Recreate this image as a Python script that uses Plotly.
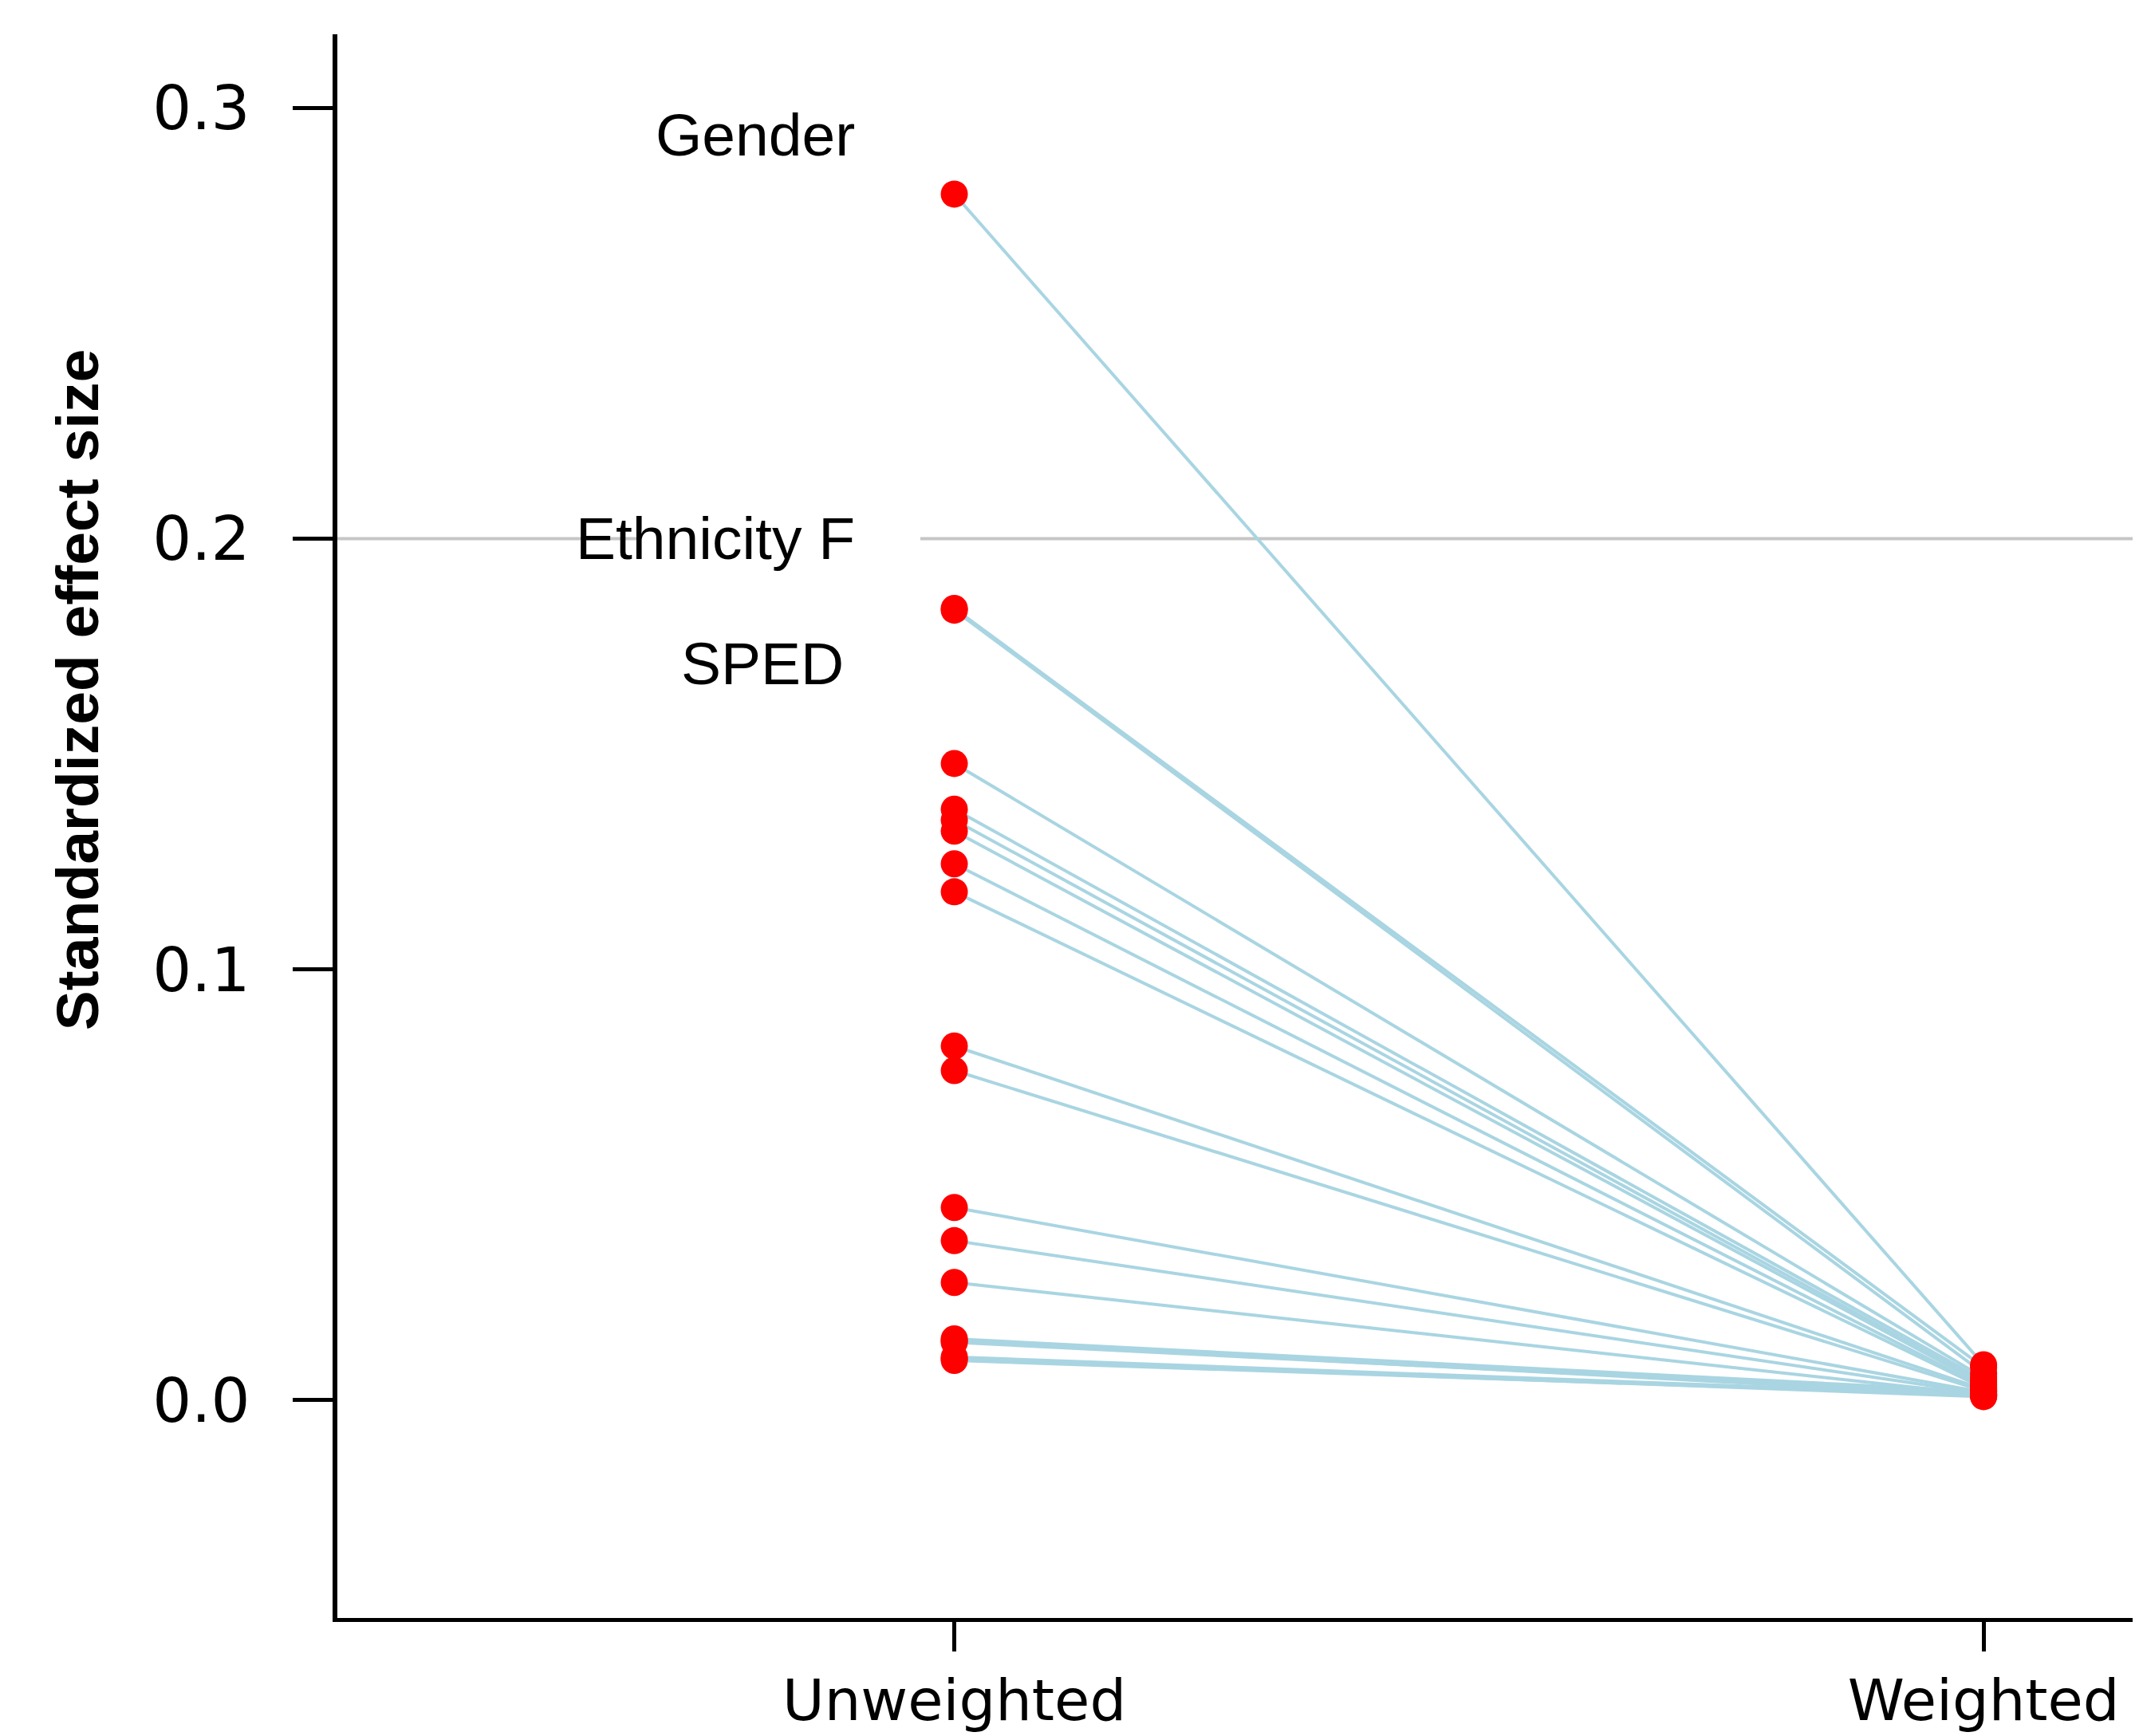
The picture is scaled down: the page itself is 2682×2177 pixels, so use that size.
import plotly.graph_objects as go

# ---- data ----
categories = ["Unweighted", "Weighted"]
cat_pos = [1, 2]
unweighted = [0.2800, 0.1838, 0.1834, 0.1478, 0.1372, 0.1347, 0.1321, 0.1245, 0.1180,
              0.0822, 0.0765, 0.0447, 0.0370, 0.0273, 0.0142, 0.0138, 0.0134,
              0.0100, 0.0096, 0.0092]
weighted = [0.0082, 0.0076, 0.0062, 0.0052, 0.0046, 0.0040, 0.0036, 0.0031, 0.0028,
            0.0025, 0.0021, 0.0018, 0.0015, 0.0012, 0.0020, 0.0010, 0.0015,
            0.0012, 0.0008, 0.0011]
label_names = ["Gender", "Ethnicity F", "SPED"]
label_y = [0.2937, 0.2000, 0.1710]
label_shift = [0, 0, -14]
y_ticks = [0.0, 0.1, 0.2, 0.3]
y_ticktext = ["0.0", "0.1", "0.2", "0.3"]
threshold = 0.2

# ---- figure ----
fig = go.Figure()

lx, ly = [], []
for u, w in zip(unweighted, weighted):
    lx += [cat_pos[0], cat_pos[1], None]
    ly += [u, w, None]
fig.add_trace(go.Scatter(x=lx, y=ly, mode="lines",
                         line=dict(color="#A9D5E2", width=4),
                         hoverinfo="skip", showlegend=False))

fig.add_trace(go.Scatter(x=[cat_pos[0]] * len(unweighted), y=unweighted, mode="markers",
                         marker=dict(color="#FF0000", size=34, symbol="circle",
                                     line=dict(width=0)),
                         showlegend=False))
fig.add_trace(go.Scatter(x=[cat_pos[1]] * len(weighted), y=weighted, mode="markers",
                         marker=dict(color="#FF0000", size=34, symbol="circle",
                                     line=dict(width=0)),
                         showlegend=False))

# reference line at 0.2 and the white patch behind the "Ethnicity F" label
fig.add_shape(type="line", xref="paper", yref="y", x0=0, x1=1, y0=threshold, y1=threshold,
              line=dict(color="#C6C6C6", width=4), layer="below")
fig.add_shape(type="rect", xref="x", yref="y", x0=0.695, x1=0.967,
              y0=threshold - 0.006, y1=threshold + 0.006,
              fillcolor="white", line=dict(width=0), layer="below")

for name, yv, sh in zip(label_names, label_y, label_shift):
    fig.add_annotation(x=0.905, y=yv, xref="x", yref="y", text=name, showarrow=False,
                       xanchor="right", yanchor="middle", xshift=sh,
                       font=dict(family="Liberation Sans, Arial", size=75, color="black"))

fig.add_annotation(text="<b>Standardized effect size</b>", textangle=-90,
                   xref="paper", yref="paper", x=0, y=0.586, xshift=-326,
                   xanchor="center", yanchor="middle", showarrow=False,
                   font=dict(family="Liberation Sans, Arial", size=75, color="black"))

fig.update_layout(
    width=2674, height=2169,
    margin=dict(l=415, r=0, t=35, b=148, autoexpand=False),
    plot_bgcolor="white", paper_bgcolor="white",
    showlegend=False,
)
fig.update_xaxes(range=[0.4006, 2.151], tickvals=cat_pos, ticktext=categories,
                 showgrid=False, zeroline=False, showline=True, linecolor="black",
                 linewidth=5, ticks="outside", ticklen=37, tickwidth=5, tickcolor="black",
                 ticklabelstandoff=0,
                 tickfont=dict(family="DejaVu Sans", size=72, color="black"))
fig.update_yaxes(range=[-0.0506, 0.3171], tickvals=y_ticks, ticktext=y_ticktext,
                 showgrid=False, zeroline=False, showline=True, linecolor="black",
                 linewidth=6, ticks="outside", ticklen=50, tickwidth=5, tickcolor="black",
                 ticklabelstandoff=38,
                 tickfont=dict(family="DejaVu Sans", size=77, color="black"))

fig.write_html("out.html")
